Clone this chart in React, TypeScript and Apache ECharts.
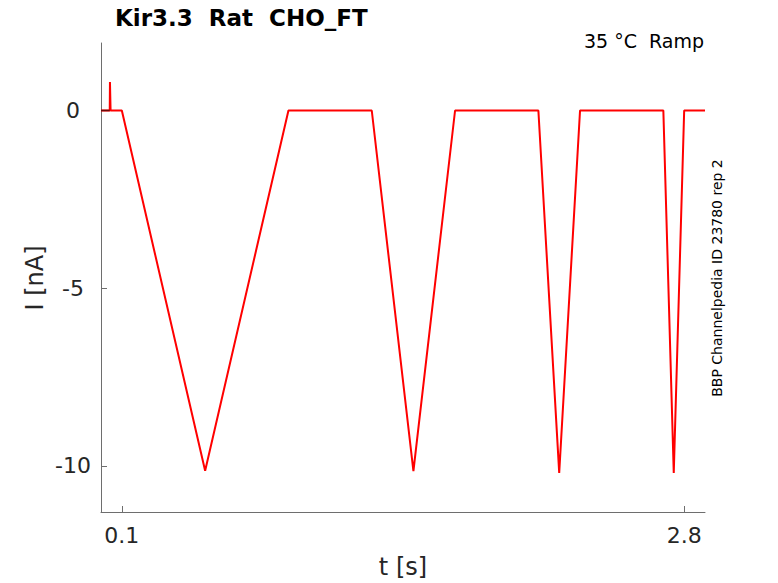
import React, { useEffect, useRef } from "react";
import * as echarts from "echarts";

// Ramp protocol current trace (time in s, current in nA)
const timeS = [0, 0.042, 0.043, 0.045, 0.046, 0.1, 0.5, 0.9, 1.3, 1.5, 1.7, 2.1, 2.2, 2.3, 2.7, 2.75, 2.8, 2.9];
const currentNA = [0, 0, 0.8, 0.8, 0, 0, -10.14, 0, 0, -10.15, 0, 0, -10.2, 0, 0, -10.2, 0, 0];

// short dark holding segment before the spike
const holdTime = [0, 0.042];
const holdCurrent = [0, 0];

const xTicks = [0.1, 2.8];
const yTicks = [-10, -5, 0];

const titleText = "Kir3.3  Rat  CHO_FT";
const subText = "35 °C  Ramp";
const sideText = "BBP Channelpedia ID 23780 rep 2";
const xName = "t [s]";
const yName = "I [nA]";

const FONT = "DejaVu Sans";

export default function App() {
  const ref = useRef<HTMLDivElement>(null);

  useEffect(() => {
    if (!ref.current) return;
    const chart = echarts.init(ref.current, null, { renderer: "svg" });
    const trace = timeS.map((t, i) => [t, currentNA[i]]);
    const hold = holdTime.map((t, i) => [t, holdCurrent[i]]);
    chart.setOption({
      animation: false,
      backgroundColor: "#ffffff",
      grid: { left: 101, right: 73, top: 43, bottom: 71, containLabel: false },
      xAxis: {
        type: "value",
        min: 0,
        max: 2.9,
        splitLine: { show: false },
        axisLine: { show: true, onZero: false, lineStyle: { color: "#6e6e6e", width: 1 } },
        axisTick: { show: true, inside: true, length: 6, customValues: xTicks, lineStyle: { color: "#6e6e6e" } },
        axisLabel: {
          customValues: xTicks,
          formatter: (v: number) => String(v),
          color: "#262626",
          fontFamily: FONT,
          fontSize: 22,
          margin: 12,
        },
      },
      yAxis: {
        type: "value",
        min: -11.3,
        max: 1.9,
        splitLine: { show: false },
        axisLine: { show: true, onZero: false, lineStyle: { color: "#6e6e6e", width: 1 } },
        axisTick: { show: true, inside: true, length: 6, customValues: yTicks, lineStyle: { color: "#6e6e6e" } },
        axisLabel: {
          customValues: yTicks,
          formatter: (v: number) => String(v),
          color: "#262626",
          fontFamily: FONT,
          fontSize: 22,
          align: "center",
          margin: 28,
        },
      },
      series: [
        {
          type: "line",
          data: hold,
          showSymbol: false,
          lineStyle: { color: "#6a0a0a", width: 1.5 },
          z: 3,
        },
        {
          type: "line",
          data: trace,
          showSymbol: false,
          lineStyle: { color: "#ff0000", width: 2 },
          z: 2,
        },
      ],
      graphic: [
        {
          type: "text",
          left: 115,
          top: 6,
          style: { text: titleText, fontFamily: FONT, fontWeight: "bold", fontSize: 23, fill: "#000000" },
        },
        {
          type: "text",
          x: 704,
          y: 41,
          style: { text: subText, fontFamily: FONT, fontSize: 19, fill: "#000000", align: "right", verticalAlign: "middle" },
        },
        {
          type: "text",
          x: 717,
          y: 278,
          rotation: Math.PI / 2,
          style: { text: sideText, fontFamily: FONT, fontSize: 14, fill: "#000000", align: "center", verticalAlign: "middle" },
        },
        {
          type: "text",
          x: 403,
          y: 567,
          style: { text: xName, fontFamily: FONT, fontSize: 24, fill: "#262626", align: "center", verticalAlign: "middle" },
        },
        {
          type: "text",
          x: 35,
          y: 278,
          rotation: Math.PI / 2,
          style: { text: yName, fontFamily: FONT, fontSize: 24, fill: "#262626", align: "center", verticalAlign: "middle" },
        },
      ],
    });
    return () => chart.dispose();
  }, []);

  return (
    <div
      ref={ref}
      style={{ position: "fixed", left: 0, top: 0, width: 778, height: 583, background: "#fff" }}
    />
  );
}
